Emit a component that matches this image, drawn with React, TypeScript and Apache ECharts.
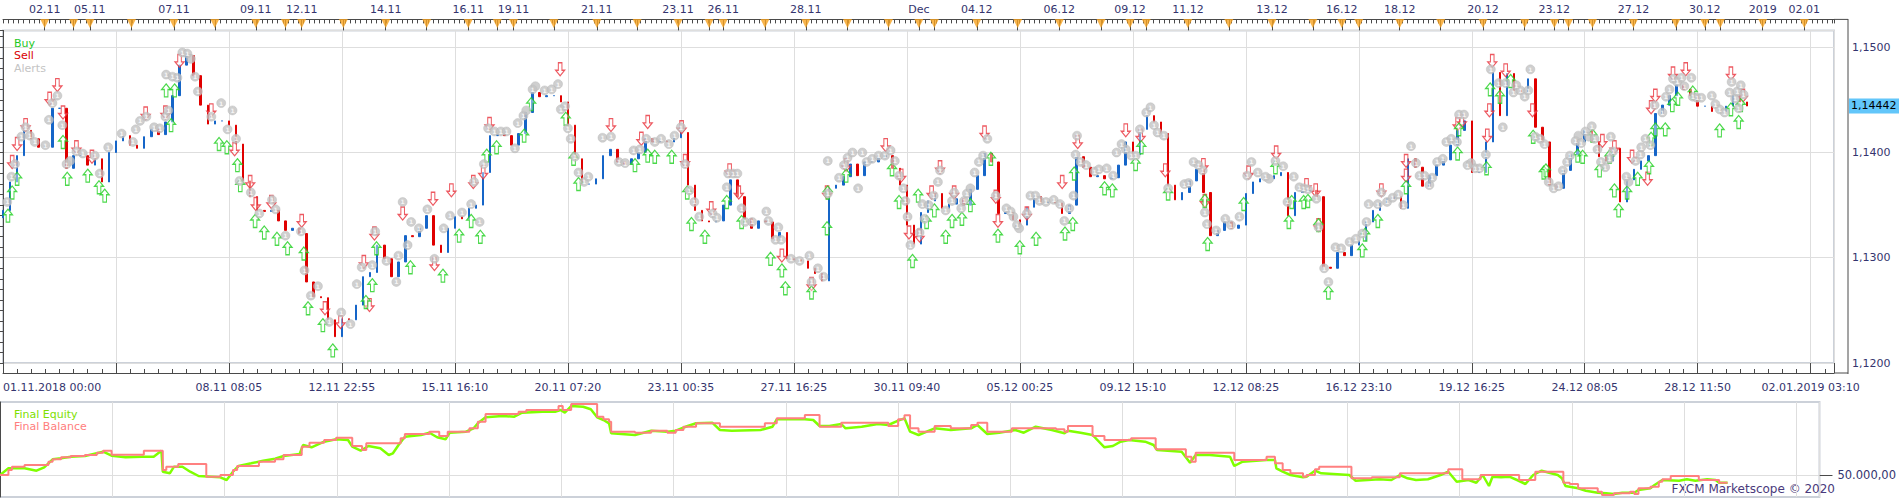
import React, { useEffect, useRef } from "react";
import * as echarts from "echarts";

// ---------- DATA ----------
const bottomLabels = [
  "01.11.2018 00:00", "", "08.11 08:05", "12.11 22:55", "15.11 16:10", "20.11 07:20",
  "23.11 00:35", "27.11 16:25", "30.11 09:40", "05.12 00:25", "09.12 15:10", "12.12 08:25",
  "16.12 23:10", "19.12 16:25", "24.12 08:05", "28.12 11:50", "02.01.2019 03:10",
];
const dayTicks = [
  5.9, 10.0, 12.3, 18.2, 24.2, 30.0, 35.8, 40.0, 42.3, 48.2, 54.2, 60.0, 65.9, 70.0, 72.3,
  78.0, 84.1, 89.8, 95.6, 100.0, 102.0, 107.9, 113.7, 119.6, 125.4, 129.7, 131.9, 137.9,
  143.7, 149.6, 155.5, 159.6, 161.9, 167.8, 173.6, 179.7, 185.5, 189.6, 192.0, 197.8, 203.6,
  209.6, 215.5, 219.7, 221.7, 225.1, 230.9, 236.9, 241.0, 243.2, 249.2, 255.1,
];
const topLabelPos = [
  5.9, 12.3, 24.2, 35.8, 42.3, 54.2, 65.9, 72.3, 84.1, 95.6, 102.0, 113.7, 129.7, 137.9,
  149.6, 159.6, 167.8, 179.7, 189.6, 197.8, 209.6, 219.7, 230.9, 241.0, 249.2, 255.1,
];
const topLabelText = [
  "02.11", "05.11", "07.11", "09.11", "12.11", "14.11", "16.11", "19.11", "21.11", "23.11",
  "26.11", "28.11", "Dec", "04.12", "06.12", "09.12", "11.12", "13.12", "16.12", "18.12",
  "20.12", "23.12", "27.12", "30.12", "2019", "02.01",
];

const firstOpen = 1.1338;
const closes = [
  1.1345, 1.1372, 1.1397, 1.1421, 1.1413, 1.1405, 1.1405, 1.1442, 1.1442, 1.1385,
  1.1397, 1.1397, 1.1388, 1.1394, 1.1372, 1.1400, 1.1411, 1.1416, 1.1407, 1.1404,
  1.1415, 1.1422, 1.1417, 1.1429, 1.1454, 1.1483, 1.1492, 1.1473, 1.1445, 1.1427,
  1.1430, 1.1430, 1.1426, 1.1408, 1.1373, 1.1358, 1.1345, 1.1344, 1.1345, 1.1335,
  1.1326, 1.1328, 1.1323, 1.1277, 1.1263, 1.1262, 1.1241, 1.1225, 1.1242, 1.1241,
  1.1255, 1.1282, 1.1286, 1.1312, 1.1299, 1.1282, 1.1296, 1.1321, 1.1320, 1.1328,
  1.1340, 1.1312, 1.1305, 1.1328, 1.1339, 1.1337, 1.1347, 1.1350, 1.1381, 1.1416,
  1.1417, 1.1416, 1.1407, 1.1418, 1.1438, 1.1457, 1.1453, 1.1454, 1.1454, 1.1448,
  1.1426, 1.1394, 1.1370, 1.1370, 1.1375, 1.1397, 1.1403, 1.1391, 1.1389, 1.1394,
  1.1400, 1.1413, 1.1410, 1.1411, 1.1410, 1.1414, 1.1419, 1.1369, 1.1345, 1.1335,
  1.1334, 1.1335, 1.1350, 1.1374, 1.1358, 1.1337, 1.1328, 1.1335, 1.1334, 1.1318,
  1.1324, 1.1299, 1.1298, 1.1297, 1.1290, 1.1285, 1.1278, 1.1366, 1.1369, 1.1377,
  1.1389, 1.1378, 1.1391, 1.1391, 1.1395, 1.1397, 1.1385, 1.1369, 1.1331, 1.1313,
  1.1343, 1.1354, 1.1361, 1.1347, 1.1351, 1.1356, 1.1350, 1.1365, 1.1378, 1.1399,
  1.1391, 1.1342, 1.1343, 1.1336, 1.1331, 1.1348, 1.1358, 1.1352, 1.1353, 1.1352,
  1.1342, 1.1350, 1.1396, 1.1386, 1.1377, 1.1378, 1.1375, 1.1376, 1.1388, 1.1410,
  1.1398, 1.1422, 1.1435, 1.1429, 1.1418, 1.1369, 1.1355, 1.1362, 1.1373, 1.1384,
  1.1362, 1.1321, 1.1326, 1.1334, 1.1328, 1.1331, 1.1361, 1.1372, 1.1375, 1.1375,
  1.1378, 1.1381, 1.1340, 1.1362, 1.1363, 1.1364, 1.1358, 1.1291, 1.1290, 1.1305,
  1.1302, 1.1312, 1.1316, 1.1334, 1.1345, 1.1352, 1.1356, 1.1358, 1.1347, 1.1394,
  1.1386, 1.1368, 1.1378, 1.1388, 1.1393, 1.1407, 1.1421, 1.1430, 1.1381, 1.1381,
  1.1410, 1.1476, 1.1435, 1.1475, 1.1459, 1.1457, 1.1470, 1.1424, 1.1410, 1.1369,
  1.1366, 1.1383, 1.1398, 1.1410, 1.1421, 1.1410, 1.1396, 1.1392, 1.1404, 1.1353,
  1.1374, 1.1384, 1.1392, 1.1397, 1.1437, 1.1445, 1.1454, 1.1464, 1.1460, 1.1454,
  1.1444, 1.1444, 1.1439, 1.1439, 1.1444, 1.1454, 1.1448, 1.14442,
];
const lastPrice = 1.14442;

const alerts = [
  [0.6, 1.1353], [1.2, 1.1377], [1.7, 1.1389], [2.6, 1.1415], [3.2, 1.1424], [3.8, 1.1416],
  [4.5, 1.141], [6.0, 1.1407], [6.5, 1.1431], [7.0, 1.1447], [7.7, 1.1454], [8.4, 1.1426],
  [9.0, 1.1389], [9.5, 1.1392], [10.4, 1.1401], [11.3, 1.1399], [13.0, 1.1397], [13.7, 1.138],
  [14.9, 1.1405], [16.8, 1.1418], [18.4, 1.141], [18.8, 1.1422], [19.4, 1.143], [20.3, 1.1434],
  [21.4, 1.1424], [22.2, 1.1423], [23.0, 1.1434], [23.4, 1.144], [23.1, 1.1474], [24.0, 1.1472],
  [24.7, 1.1471], [25.4, 1.1495], [26.1, 1.1494], [26.6, 1.1489], [27.2, 1.1472], [27.6, 1.1458],
  [29.5, 1.1434], [30.9, 1.1447], [31.8, 1.1422], [32.5, 1.144], [33.0, 1.1413], [33.5, 1.1373],
  [35.1, 1.1362], [36.3, 1.1342], [38.1, 1.1355], [38.6, 1.1346], [40.0, 1.1321], [42.2, 1.1325],
  [42.7, 1.1288], [43.6, 1.1264], [44.6, 1.1273], [46.2, 1.1239], [47.9, 1.1248], [49.2, 1.1237],
  [50.1, 1.1275], [50.8, 1.1291], [52.3, 1.1293], [52.7, 1.1325], [54.3, 1.1297], [55.7, 1.1277],
  [56.0, 1.1302], [56.6, 1.1353], [57.3, 1.1312], [57.8, 1.1334], [58.9, 1.1328], [60.1, 1.1346],
  [61.1, 1.1299], [62.4, 1.1328], [63.3, 1.134], [65.0, 1.1343], [66.3, 1.1351], [66.7, 1.1372],
  [67.5, 1.1334], [68.1, 1.1389], [68.7, 1.1423], [69.6, 1.142], [70.5, 1.142], [71.3, 1.142],
  [72.5, 1.1404], [72.9, 1.1428], [73.7, 1.1435], [74.1, 1.144], [75.0, 1.146], [75.4, 1.1463],
  [76.7, 1.1459], [77.7, 1.146], [78.6, 1.1465], [79.0, 1.1441], [79.6, 1.1444], [80.0, 1.1423],
  [80.4, 1.1413], [81.0, 1.1396], [81.5, 1.1381], [82.3, 1.1372], [82.9, 1.1377], [84.9, 1.1414],
  [86.1, 1.1415], [87.2, 1.1391], [88.1, 1.139], [89.3, 1.1402], [90.2, 1.1403], [91.1, 1.1413],
  [92.3, 1.141], [93.2, 1.1413], [94.3, 1.1408], [95.1, 1.1416], [96.0, 1.1424], [96.6, 1.1389],
  [97.2, 1.1364], [97.9, 1.1353], [98.6, 1.1339], [100.5, 1.1342], [101.1, 1.1338], [102.7, 1.138],
  [103.4, 1.138], [104.0, 1.138], [102.5, 1.1367], [104.6, 1.1347], [105.1, 1.1334], [106.1, 1.1334],
  [108.1, 1.1344], [108.4, 1.1335], [109.8, 1.1329], [109.4, 1.1317], [110.2, 1.1317], [111.6, 1.1299],
  [112.8, 1.1297], [114.2, 1.1302], [114.5, 1.1277], [115.4, 1.129], [116.2, 1.1282], [116.8, 1.1392],
  [116.8, 1.1361], [118.4, 1.1376], [119.1, 1.1388], [119.6, 1.1395], [120.3, 1.14], [121.7, 1.14],
  [121.1, 1.1366], [122.3, 1.1391], [123.1, 1.1394], [124.0, 1.1397], [124.9, 1.1397], [125.7, 1.1402],
  [126.3, 1.1392], [126.9, 1.1378], [127.5, 1.1366], [127.8, 1.1354], [128.1, 1.1339], [128.5, 1.1312],
  [129.8, 1.1324], [130.2, 1.1351], [130.5, 1.1337], [131.1, 1.135], [131.8, 1.1359], [132.4, 1.1372],
  [132.7, 1.1383], [133.5, 1.1345], [134.4, 1.1354], [134.7, 1.1362], [135.7, 1.1347], [136.1, 1.1354],
  [136.5, 1.1361], [137.0, 1.1366], [137.6, 1.1381], [138.2, 1.1391], [138.8, 1.1397], [139.4, 1.1413],
  [140.6, 1.1359], [142.1, 1.1347], [142.7, 1.1344], [143.1, 1.1339], [143.6, 1.1331], [143.9, 1.1328],
  [145.0, 1.1342], [145.5, 1.1359], [146.2, 1.1359], [146.8, 1.1354], [147.7, 1.1353], [148.8, 1.1355],
  [149.7, 1.1351], [150.3, 1.1335], [151.0, 1.1347], [151.6, 1.1359], [152.1, 1.1416], [151.9, 1.1398],
  [152.6, 1.1391], [153.4, 1.1388], [154.6, 1.1382], [155.2, 1.1384], [156.3, 1.1385], [157.2, 1.1378],
  [157.7, 1.14], [158.4, 1.1408], [159.0, 1.1403], [159.8, 1.1397], [160.4, 1.1397], [161.0, 1.1422],
  [161.9, 1.1438], [162.5, 1.1443], [163.0, 1.1426], [163.5, 1.1419], [164.4, 1.1416], [165.0, 1.1366],
  [167.3, 1.137], [167.9, 1.1371], [168.6, 1.1391], [169.3, 1.1388], [169.9, 1.1383], [170.2, 1.1343],
  [170.5, 1.1332], [171.8, 1.1326], [173.1, 1.1337], [173.9, 1.1331], [175.1, 1.1339], [176.2, 1.1378],
  [176.8, 1.1391], [177.7, 1.1381], [178.8, 1.1377], [179.3, 1.1375], [180.2, 1.1392], [181.3, 1.1387],
  [181.9, 1.1353], [182.8, 1.1377], [183.6, 1.1367], [184.2, 1.1366], [184.8, 1.1365], [186.0, 1.1356],
  [186.3, 1.1329], [187.1, 1.129], [187.7, 1.1277], [188.7, 1.131], [189.5, 1.1309], [190.7, 1.1315],
  [191.6, 1.1318], [192.5, 1.1323], [193.1, 1.1334], [193.4, 1.1351], [194.7, 1.1351], [195.2, 1.1362],
  [196.0, 1.1353], [196.8, 1.1357], [197.6, 1.136], [198.3, 1.135], [199.4, 1.1406], [200.1, 1.139],
  [200.6, 1.1378], [201.3, 1.1378], [202.0, 1.1369], [202.4, 1.1376], [203.1, 1.1391], [203.9, 1.1394],
  [204.4, 1.141], [205.1, 1.1413], [205.9, 1.141], [206.2, 1.1436], [206.9, 1.1436], [207.4, 1.1388],
  [207.9, 1.139], [208.5, 1.1385], [209.1, 1.1385], [210.0, 1.1398], [210.7, 1.1479], [211.8, 1.1466],
  [212.4, 1.1424], [212.8, 1.1466], [213.9, 1.1457], [214.3, 1.1464], [214.9, 1.1459], [215.5, 1.1453],
  [216.0, 1.1459], [216.3, 1.1479], [217.0, 1.1415], [217.7, 1.1413], [218.3, 1.1408], [218.9, 1.1372],
  [219.6, 1.1366], [220.3, 1.1368], [220.9, 1.1383], [221.5, 1.1391], [221.9, 1.1397], [222.7, 1.1411],
  [223.1, 1.1416], [223.5, 1.1409], [224.1, 1.142], [224.6, 1.1415], [225.0, 1.1425], [225.4, 1.1413],
  [225.8, 1.1403], [226.3, 1.1391], [226.9, 1.1386], [227.5, 1.1394], [227.7, 1.1415], [228.0, 1.1401],
  [229.9, 1.1377], [230.2, 1.1372], [231.2, 1.1392], [231.9, 1.1398], [232.0, 1.1405], [232.6, 1.1413],
  [233.3, 1.1407], [233.9, 1.1445], [235.0, 1.1438], [235.5, 1.1453], [236.0, 1.146], [236.5, 1.147],
  [237.1, 1.1467], [237.7, 1.1471], [238.1, 1.1463], [239.1, 1.1471], [239.3, 1.1453], [239.9, 1.1452],
  [240.5, 1.1452], [242.0, 1.1454], [242.5, 1.1446], [243.1, 1.1441], [243.8, 1.1438], [244.5, 1.1457],
  [244.8, 1.1467], [245.3, 1.1451], [245.6, 1.1458], [245.8, 1.1442], [246.1, 1.1464], [246.5, 1.1455],
];

const buys = [
  [0.7, 1.134], [1.3, 1.1362], [2.0, 1.1375], [8.5, 1.141], [9.1, 1.1375], [12.0, 1.1378],
  [13.6, 1.1367], [14.4, 1.1359], [23.1, 1.1459], [23.8, 1.1426], [24.3, 1.1459], [30.6, 1.1408],
  [31.7, 1.1405], [33.2, 1.1388], [33.6, 1.1369], [35.7, 1.1335], [37.0, 1.1324], [38.8, 1.1318],
  [40.3, 1.1309], [42.6, 1.1304], [43.2, 1.1252], [45.3, 1.1236], [46.7, 1.1212], [51.4, 1.1258],
  [52.3, 1.1274], [52.9, 1.1309], [57.7, 1.1291], [62.3, 1.1283], [64.6, 1.1321], [66.3, 1.1335],
  [67.6, 1.132], [68.5, 1.1397], [69.9, 1.1405], [73.8, 1.1416], [74.8, 1.1446], [79.7, 1.1432],
  [80.8, 1.1394], [81.5, 1.137], [89.5, 1.1388], [91.3, 1.1397], [92.3, 1.1396], [94.7, 1.1396],
  [96.9, 1.1362], [97.5, 1.1332], [99.4, 1.132], [102.5, 1.1353], [104.6, 1.1334], [108.7, 1.1299],
  [110.3, 1.1288], [110.8, 1.1271], [114.5, 1.1267], [116.7, 1.1328], [116.8, 1.1362], [119.4, 1.1378],
  [125.9, 1.1384], [126.9, 1.1353], [128.8, 1.1297], [129.6, 1.1359], [130.8, 1.1334], [131.9, 1.1345],
  [133.5, 1.132], [134.4, 1.1335], [135.8, 1.1337], [137.0, 1.135], [139.9, 1.1394], [140.9, 1.1321],
  [144.0, 1.131], [146.3, 1.1318], [150.4, 1.1323], [151.5, 1.1332], [151.7, 1.138], [156.0, 1.1366],
  [157.1, 1.1364], [160.4, 1.1389], [161.2, 1.1405], [165.0, 1.1361], [170.2, 1.1354], [170.6, 1.1313],
  [175.7, 1.1351], [180.2, 1.1386], [182.1, 1.1334], [182.5, 1.1353], [184.2, 1.1353], [184.8, 1.1354],
  [186.3, 1.1331], [187.7, 1.1267], [192.5, 1.1307], [192.9, 1.1322], [194.7, 1.1335], [198.7, 1.1367],
  [206.0, 1.1399], [206.2, 1.1422], [210.1, 1.1385], [210.6, 1.146], [212.0, 1.1453], [213.5, 1.1468],
  [216.7, 1.1415], [218.2, 1.1381], [218.5, 1.1383], [223.0, 1.1397], [223.7, 1.1396], [225.1, 1.1416],
  [226.1, 1.1383], [227.5, 1.1396], [228.2, 1.1364], [228.8, 1.1345], [230.0, 1.1362], [231.5, 1.1375],
  [233.1, 1.1386], [233.4, 1.1413], [234.0, 1.1422], [235.4, 1.1422], [236.4, 1.1445], [237.2, 1.1451],
  [239.3, 1.1457], [243.1, 1.1421], [244.7, 1.1441], [245.8, 1.1429], [246.1, 1.1445],
];

const sells = [
  [1.3, 1.1391], [2.0, 1.1408], [3.2, 1.1426], [6.6, 1.1451], [7.7, 1.1464], [8.5, 1.1438],
  [10.4, 1.1405], [12.6, 1.1396], [20.2, 1.1437], [23.0, 1.1438], [25.0, 1.1487], [29.5, 1.144],
  [32.8, 1.1403], [35.0, 1.1372], [35.8, 1.1351], [38.0, 1.1353], [42.3, 1.1335], [45.6, 1.1252],
  [47.8, 1.1239], [51.1, 1.1296], [51.9, 1.1255], [52.6, 1.1323], [56.6, 1.1342], [60.9, 1.1356],
  [63.5, 1.1364], [61.1, 1.1294], [66.6, 1.1372], [68.0, 1.1381], [68.9, 1.1427], [78.9, 1.1479],
  [86.1, 1.1426], [90.4, 1.1413], [91.3, 1.1429], [96.1, 1.1424], [96.6, 1.1392], [100.3, 1.1347],
  [102.9, 1.1383], [104.2, 1.1362], [110.3, 1.1302], [114.5, 1.1275], [116.7, 1.1362], [119.4, 1.1388],
  [125.0, 1.1407], [127.2, 1.1378], [128.3, 1.1324], [129.8, 1.1321], [131.5, 1.1362], [132.7, 1.1386],
  [134.7, 1.1362], [139.0, 1.1419], [140.6, 1.1358], [140.9, 1.1335], [145.0, 1.1342], [150.0, 1.1372],
  [152.2, 1.141], [159.0, 1.1421], [161.1, 1.1416], [164.6, 1.1383], [170.0, 1.1388], [170.2, 1.1354],
  [176.4, 1.1381], [180.3, 1.14], [184.6, 1.1369], [185.9, 1.1364], [186.3, 1.1331], [195.2, 1.1364],
  [198.7, 1.1378], [198.7, 1.1392], [206.0, 1.1427], [206.6, 1.143], [210.5, 1.144], [210.2, 1.1416],
  [210.9, 1.1487], [212.8, 1.1478], [216.6, 1.144], [226.5, 1.1411], [228.2, 1.1405], [230.7, 1.1396],
  [232.9, 1.1375], [233.4, 1.1443], [234.0, 1.1454], [236.5, 1.1475], [238.3, 1.1479], [244.7, 1.1475],
  [246.4, 1.1454],
];

const equity = [
  [0, 50000], [1.2, 50670], [3.5, 50670], [5.2, 50430], [6.3, 50770], [7.5, 51570], [8.7, 51670],
  [10.1, 51830], [12.1, 51900], [14.7, 52330], [15.9, 51930], [17.9, 51770], [20.2, 51830],
  [21.9, 51830], [23.0, 52430], [23.2, 50330], [24.2, 50170], [24.8, 50830], [26.0, 50830],
  [27.1, 50330], [28.3, 49900], [31.4, 49770], [32.3, 49500], [33.2, 50330], [34.0, 50900],
  [35.8, 51170], [37.5, 51430], [39.2, 51630], [40.4, 51900], [42.7, 52100], [43.2, 53000],
  [44.4, 52770], [46.2, 53330], [47.9, 53570], [49.6, 53500], [50.2, 52830], [51.4, 52430],
  [52.5, 52900], [54.2, 52670], [55.4, 52000], [56.0, 52170], [56.8, 53000], [57.7, 53830],
  [60.0, 54000], [61.2, 54230], [62.3, 53770], [63.5, 53570], [64.1, 54230], [66.4, 54330],
  [67.5, 54670], [68.1, 55170], [69.2, 55770], [71.6, 55900], [73.3, 55830], [74.4, 56230],
  [77.3, 56330], [79.1, 56330], [79.9, 56500], [80.5, 56230], [81.4, 56900], [83.1, 56830],
  [84.2, 56570], [85.1, 55770], [86.0, 55500], [86.8, 55170], [87.1, 54170], [90.5, 54000],
  [92.8, 54430], [95.1, 54330], [96.3, 54430], [98.0, 54900], [99.2, 55170], [101.5, 55230],
  [102.6, 54500], [104.3, 54430], [108.4, 54500], [110.1, 54830], [110.7, 55570], [114.7, 55570],
  [115.9, 55500], [116.8, 54900], [118.2, 54900], [119.9, 55100], [120.5, 54670], [122.8, 54830],
  [125.1, 55100], [126.6, 55000], [128.0, 55430], [128.9, 55670], [129.7, 54330], [130.9, 54000],
  [133.2, 54670], [135.5, 54500], [138.4, 54670], [139.3, 55000], [140.7, 54100], [142.4, 54230],
  [144.7, 54500], [145.9, 54230], [147.6, 54830], [149.9, 54500], [151.7, 54170], [152.2, 54430],
  [154.0, 54230], [155.7, 54000], [157.4, 52770], [158.6, 52900], [159.7, 53330], [160.9, 53500],
  [163.2, 53330], [164.4, 53000], [164.9, 52500], [168.4, 52330], [169.6, 51230], [170.4, 52000],
  [172.4, 52000], [175.3, 51830], [175.9, 50900], [177.1, 51330], [180.5, 51500], [181.7, 51500],
  [181.9, 50670], [182.8, 50330], [183.9, 50000], [185.7, 49770], [186.2, 49830], [187.4, 50430],
  [188.3, 50170], [192.3, 50000], [193.2, 49430], [194.9, 49500], [196.6, 49570], [198.3, 49500],
  [199.5, 50000], [200.6, 49670], [201.8, 49500], [203.5, 49570], [205.3, 50000], [206.4, 50330],
  [207.6, 49330], [209.3, 49500], [210.4, 49230], [211.3, 50000], [212.2, 48900], [212.7, 49830],
  [213.9, 49770], [215.1, 49830], [216.2, 49500], [217.4, 49100], [218.5, 50000], [219.7, 50430],
  [222.0, 50000], [222.6, 49670], [223.1, 48900], [223.7, 48830], [224.9, 48670], [226.0, 48430],
  [227.7, 48230], [228.9, 48170], [230.0, 48100], [231.2, 48230], [232.9, 48230], [233.5, 48500],
  [235.2, 48670], [235.8, 49000], [236.9, 49500], [239.3, 49430], [240.4, 49570], [241.6, 49430],
  [243.3, 49570], [244.5, 49500], [245.0, 49230], [246.2, 49230],
];

const balance = [
  [0, 50000], [1.2, 50500], [1.7, 50830], [3.5, 51000], [6.9, 51330], [7.5, 51570], [8.7, 51770],
  [10.1, 51900], [12.1, 52000], [13.8, 52230], [14.7, 52430], [15.9, 52030], [20.5, 52430],
  [23.2, 50500], [23.7, 50830], [25.4, 51100], [29.4, 49830], [31.4, 50000], [33.2, 50500],
  [33.8, 50900], [36.9, 51330], [39.2, 51570], [40.4, 52000], [43.0, 52830], [44.1, 53230],
  [46.2, 53500], [47.9, 53730], [50.2, 52900], [51.6, 52500], [52.2, 53170], [57.1, 53670],
  [57.7, 54100], [61.2, 54330], [62.6, 53900], [63.8, 54330], [66.9, 54670], [68.1, 55330],
  [69.2, 56100], [73.9, 56330], [75.0, 56500], [79.6, 56900], [80.2, 56500], [81.4, 57100],
  [85.1, 55830], [86.0, 55570], [86.8, 55330], [87.1, 54330], [90.5, 54230], [92.8, 54430],
  [95.1, 54230], [96.3, 54500], [97.4, 54830], [99.2, 55170], [102.6, 54830], [109.0, 55170],
  [110.7, 55670], [114.7, 56000], [116.8, 54830], [119.9, 55230], [126.6, 54900], [128.0, 55570],
  [128.9, 55970], [129.7, 54670], [130.9, 54330], [133.2, 54900], [135.5, 54670], [138.4, 55000],
  [139.3, 55230], [140.7, 54330], [144.2, 54670], [150.5, 54570], [151.7, 54330], [152.2, 54900],
  [155.7, 53900], [157.4, 53500], [161.2, 53670], [164.7, 52570], [169.0, 51830], [169.8, 51330],
  [170.4, 52230], [175.9, 51500], [180.5, 51830], [181.7, 51170], [182.8, 50500], [183.9, 50170],
  [185.7, 49830], [186.2, 50000], [187.4, 50570], [188.0, 50830], [192.6, 49670], [195.5, 49770],
  [199.5, 50170], [206.4, 50570], [208.4, 49570], [211.0, 50000], [216.5, 49500], [218.8, 50330],
  [222.8, 49230], [223.7, 49100], [224.9, 48670], [227.7, 48330], [228.3, 48000], [230.0, 48170],
  [232.3, 48330], [232.9, 48100], [233.5, 48670], [235.2, 48830], [236.4, 49330], [236.9, 49570],
  [238.1, 49900], [242.1, 49500], [245.0, 49230], [246.2, 49230],
];

const equityTicks = [48000, 49000, 50000, 51000, 52000, 53000, 54000, 55000, 56000, 57000];
const equityLabelValue = 50000;

// ---------- STYLE ----------
const FONT = "DejaVu Sans";
const NAVY = "#34346e";
const AXIS = "#4a4a4a";
const GRIDC = "#dedede";
const FRAME = "#ccd1d9";
const X_MAX = 259.3;
const BARS_PER_GRID = 16;

const upArrow = "path://M5,0 L10,6 L7,6 L7,14 L3,14 L3,6 L0,6 Z";
const downArrow = "path://M3,0 L7,0 L7,8 L10,8 L5,14 L0,8 L3,8 Z";

const fmtPrice = (v: number, d: number) => v.toFixed(d).replace(".", ",");

function buildOption() {
  const candles = closes.map((c, i) => {
    const o = i === 0 ? firstOpen : closes[i - 1];
    return [i, o, c, Math.min(o, c), Math.max(o, c)];
  });
  const yMax = 1.1516;

  return {
    animation: false,
    backgroundColor: "#ffffff",
    textStyle: { fontFamily: FONT },
    legend: [
      {
        data: [
          { name: "Buy", textStyle: { color: "#1fc81f" } },
          { name: "Sell", textStyle: { color: "#d90000" } },
          { name: "Alerts", textStyle: { color: "#c4c4c4" } },
        ],
        orient: "vertical",
        left: 3,
        top: 32,
        itemGap: 0,
        itemWidth: 0,
        itemHeight: 0,
        selectedMode: false,
        textStyle: { fontSize: 11, fontFamily: FONT, lineHeight: 12.5 },
      },
      {
        data: [
          { name: "Final Equity", textStyle: { color: "#7ee000" } },
          { name: "Final Balance", textStyle: { color: "#ff7d7d" } },
        ],
        orient: "vertical",
        left: 3,
        top: 403,
        itemGap: 0,
        itemWidth: 0,
        itemHeight: 0,
        selectedMode: false,
        textStyle: { fontSize: 11, fontFamily: FONT, lineHeight: 12.5 },
      },
    ],
    grid: [
      { left: 0, top: 30.4, width: 1834, height: 332.6, show: true, borderColor: FRAME, borderWidth: 2, backgroundColor: "transparent" },
      { left: 0, top: 402, width: 1834, height: 95, show: true, borderColor: FRAME, borderWidth: 2, backgroundColor: "transparent" },
    ],
    xAxis: [
      {
        type: "value", gridIndex: 0, min: 0, max: X_MAX, interval: BARS_PER_GRID, position: "bottom", offset: 10,
        axisLine: { show: true, lineStyle: { color: AXIS } },
        axisTick: { show: true, inside: true, length: 10, lineStyle: { color: AXIS } },
        minorTick: { show: true, splitNumber: 8, length: 4, lineStyle: { color: AXIS } },
        splitLine: { show: true, lineStyle: { color: GRIDC } },
        axisLabel: {
          color: NAVY, fontSize: 11, fontFamily: FONT, margin: 9, alignMinLabel: "left", showMaxLabel: false,
          formatter: (v: number) => (v % BARS_PER_GRID === 0 ? bottomLabels[v / BARS_PER_GRID] ?? "" : ""),
        },
      },
      {
        type: "value", gridIndex: 0, min: 0, max: X_MAX, position: "top", offset: 11,
        axisLine: { show: true, lineStyle: { color: AXIS } },
        axisTick: { show: true, inside: true, length: 11, customValues: dayTicks, lineStyle: { color: AXIS } },
        splitLine: { show: false },
        axisLabel: {
          customValues: topLabelPos, color: NAVY, fontSize: 11, fontFamily: FONT, margin: 4,
          formatter: (v: number) => {
            const k = topLabelPos.findIndex((p) => Math.abs(p - v) < 1e-6);
            return k >= 0 ? topLabelText[k] : "";
          },
        },
      },
      {
        type: "value", gridIndex: 0, min: 0, max: X_MAX, interval: 0.734, position: "top", offset: 11,
        axisLine: { show: false },
        axisTick: { show: true, inside: true, length: 4, lineStyle: { color: AXIS } },
        axisLabel: { show: false },
        splitLine: { show: false },
      },
      {
        type: "value", gridIndex: 1, min: 0, max: X_MAX, interval: BARS_PER_GRID,
        axisLine: { show: false }, axisTick: { show: false }, axisLabel: { show: false },
        splitLine: { show: true, lineStyle: { color: GRIDC } },
      },
    ],
    yAxis: [
      {
        type: "value", gridIndex: 0, min: 1.12, max: yMax, interval: 0.01, position: "right", offset: 14,
        axisLine: { show: true, lineStyle: { color: AXIS } },
        axisTick: { show: true, inside: true, length: 14, lineStyle: { color: AXIS } },
        minorTick: { show: true, splitNumber: 10, length: 4, lineStyle: { color: AXIS } },
        splitLine: { show: true, lineStyle: { color: GRIDC } },
        axisLabel: {
          color: NAVY, fontSize: 11, fontFamily: FONT, margin: 4, showMaxLabel: false,
          formatter: (v: number) => (Math.abs(v * 100 - Math.round(v * 100)) < 1e-6 ? fmtPrice(v, 4) : ""),
        },
      },
      {
        type: "value", gridIndex: 1, min: 47800, max: 57300, position: "right", offset: 13,
        axisLine: { show: true, lineStyle: { color: AXIS } },
        axisTick: { show: true, inside: true, length: 4, customValues: equityTicks, lineStyle: { color: AXIS } },
        splitLine: { show: false },
        axisLabel: {
          customValues: [equityLabelValue], color: NAVY, fontSize: 11.5, fontFamily: FONT, margin: 5,
          formatter: () => "50.000,00",
        },
      },
      {
        type: "value", gridIndex: 1, min: 47800, max: 57300, position: "right", offset: 13,
        axisLine: { show: false },
        axisTick: { show: true, inside: true, length: 13, customValues: [equityLabelValue], lineStyle: { color: AXIS } },
        splitLine: { show: false },
        axisLabel: { show: false },
      },
    ],
    series: [
      {
        name: "EUR/USD", type: "candlestick", xAxisIndex: 0, yAxisIndex: 0, data: candles,
        encode: { x: 0, y: [1, 2, 3, 4] }, barWidth: 2, z: 2,
        itemStyle: { color: "#1565c8", color0: "#e00000", borderColor: "#1565c8", borderColor0: "#e00000", borderWidth: 1 },
      },
      {
        name: "Sell", type: "scatter", xAxisIndex: 0, yAxisIndex: 0, data: sells, symbol: downArrow,
        symbolSize: [9, 13], z: 4,
        itemStyle: { color: "rgba(255,255,255,0.55)", borderColor: "#e8303a", borderWidth: 1.2 },
      },
      {
        name: "Buy", type: "scatter", xAxisIndex: 0, yAxisIndex: 0, data: buys, symbol: upArrow,
        symbolSize: [9, 13], z: 4,
        itemStyle: { color: "rgba(255,255,255,0.55)", borderColor: "#1ed01e", borderWidth: 1.2 },
      },
      {
        name: "Alerts", type: "scatter", xAxisIndex: 0, yAxisIndex: 0, data: alerts, symbol: "circle",
        symbolSize: 9, z: 5, clip: false,
        itemStyle: { color: "#c3c3c3", borderColor: "#b5b5b5", borderWidth: 0.5 },
        label: { show: true, position: "inside", formatter: "1", fontSize: 6, color: "#ffffff", fontWeight: "bold" },
        labelLayout: { hideOverlap: true },
        markLine: {
          silent: true, symbol: "none", animation: false, precision: 5,
          lineStyle: { color: "transparent", width: 0 },
          label: {
            show: true, position: "end", distance: 15,
            formatter: () => fmtPrice(lastPrice, 5),
            backgroundColor: "#62c6fa", color: "#000", fontSize: 11, fontFamily: FONT, padding: [2, 8, 2, 2],
          },
          data: [{ yAxis: lastPrice }],
        },
      },
      {
        name: "ruler", type: "scatter", xAxisIndex: 1, yAxisIndex: 0, clip: false, silent: true,
        data: dayTicks.map((v) => [v, yMax]), symbol: "triangle", symbolRotate: 180,
        symbolSize: [9, 9], symbolOffset: [0, -7], itemStyle: { color: "#f6a321" }, z: 6,
      },
      {
        name: "Final Equity", type: "line", xAxisIndex: 3, yAxisIndex: 1, data: equity,
        showSymbol: false, symbol: "none", color: "#80ff00", lineStyle: { color: "#80ff00", width: 2.5 }, z: 3,
      },
      {
        name: "Final Balance", type: "line", xAxisIndex: 3, yAxisIndex: 1, data: balance, step: "end",
        showSymbol: false, symbol: "none", color: "#ff8080", lineStyle: { color: "#ff8080", width: 2 }, z: 4,
        markLine: {
          silent: true, symbol: "none", label: { show: false },
          lineStyle: { color: GRIDC, width: 1, type: "solid" },
          data: [{ yAxis: equityLabelValue }],
          z: 1,
        },
      },
    ],
    graphic: [
      { type: "line", shape: { x1: 1848, y1: 19, x2: 1848, y2: 374 }, style: { stroke: AXIS, lineWidth: 1 }, silent: true },
      { type: "line", shape: { x1: 1834, y1: 19.4, x2: 1848, y2: 19.4 }, style: { stroke: AXIS, lineWidth: 1 }, silent: true },
      { type: "line", shape: { x1: 1834, y1: 373, x2: 1848, y2: 373 }, style: { stroke: AXIS, lineWidth: 1 }, silent: true },
      {
        type: "text", right: 64, top: 483, silent: true,
        style: { text: "FXCM Marketscope © 2020", fill: "#4a3a7c", font: `12px "${FONT}"` },
      },
    ],
  };
}

export default function App() {
  const ref = useRef<HTMLDivElement>(null);
  useEffect(() => {
    document.body.style.margin = "0";
    const chart = echarts.init(ref.current as HTMLDivElement, undefined, { renderer: "svg" });
    chart.setOption(buildOption() as any);
    return () => chart.dispose();
  }, []);
  return (
    <div
      ref={ref}
      style={{ position: "fixed", left: 0, top: 0, width: 1899, height: 500, background: "#fff" }}
    />
  );
}
